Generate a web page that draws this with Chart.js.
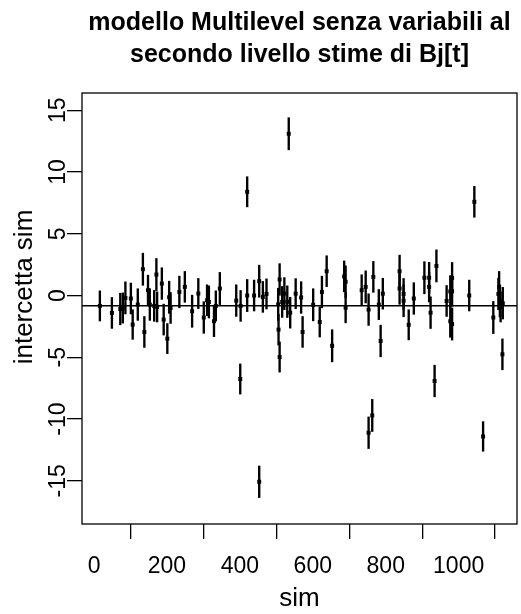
<!DOCTYPE html>
<html>
<head>
<meta charset="utf-8">
<script src="https://cdn.jsdelivr.net/npm/chart.js@4/dist/chart.umd.min.js"></script>
<style>
  html, body { margin: 0; padding: 0; background: #fff; }
  #box { width: 521px; height: 614px; }
</style>
</head>
<body>
<div id="box"><canvas id="grafico"></canvas></div>
<script>
// Dati: ascissa (sim), stima dell'intercetta e semi-ampiezza della barra
const simX = [16, 49, 72, 79, 86, 101, 106, 120, 134, 138,
  148, 153, 165, 171, 173, 186, 191, 201, 206, 210,
  234, 249, 269, 286, 301, 310, 315, 329, 334, 345,
  390, 401, 402, 420, 420, 439, 453, 453, 463, 473,
  505, 506, 509, 509, 516, 522, 530, 534, 538, 553,
  568, 572, 601, 619, 625, 638, 653, 686, 690, 690,
  734, 745, 753, 753, 763, 766, 781, 786, 792, 838,
  838, 849, 849, 863, 877, 906, 919, 919, 923, 934,
  939, 967, 977, 977, 982, 982, 982, 1029, 1043, 1067,
  1095, 1109, 1111, 1113, 1115, 1121, 1120];

const stime = [-0.84, -1.41, -1.09, -1.01, -0.19, -0.24, -2.35, -0.73, 2.13, -2.95,
  0.43, -0.73, -0.84, 1.70, -0.92, 0.97, -1.95, -3.49, -0.14, -1.01,
  0.29, 0.70, -1.27, 0.16, -1.78, -0.38, -0.52, -2.08, -0.84, 0.57,
  -0.41, -6.76, -0.84, 8.40, 0.00, 0.00, -15.08, 1.16, -0.11, 0.13,
  -0.71, -2.76, 1.30, -4.98, -0.52, 0.15, -0.50, 13.10, -1.39, 0.15,
  -0.16, -2.95, -0.75, -2.14, 0.29, 1.97, -4.07, 1.55, 1.12, -0.99,
  0.43, 0.70, -1.14, -11.11, -9.71, 1.51, -0.73, -3.68, 0.15, 1.97,
  0.57, 0.13, -0.42, -2.37, -0.24, 1.44, 1.44, 0.70, -1.39, -6.92,
  2.40, -0.44, 0.33, -2.08, 1.43, 0.35, -2.31, 0.00, 7.59, -11.41,
  -1.78, 0.13, 0.70, -0.44, -0.92, -0.62, -4.76];

const semi = [1.22, 1.25, 1.28, 1.22, 1.3, 1.25, 1.2, 1.28, 1.3, 1.25,
  1.22, 1.28, 1.25, 1.3, 1.22, 1.28, 1.25, 1.22, 1.3, 1.25,
  1.28, 1.25, 1.3, 1.22, 1.28, 1.25, 1.3, 1.25, 1.22, 1.3,
  1.28, 1.22, 1.25, 1.22, 1.3, 1.25, 1.28, 1.3, 1.25, 1.22,
  1.3, 1.25, 1.28, 1.22, 1.25, 1.3, 1.28, 1.3, 1.25, 1.22,
  1.28, 1.25, 1.3, 1.22, 1.28, 1.25, 1.3, 1.25, 1.28, 1.22,
  1.25, 1.3, 1.28, 1.28, 1.3, 1.25, 1.22, 1.28, 1.25, 1.3,
  1.28, 1.25, 1.3, 1.22, 1.28, 1.3, 1.25, 1.22, 1.28, 1.28,
  1.3, 1.25, 1.28, 1.3, 1.25, 1.22, 1.3, 1.25, 1.25, 1.2,
  1.3, 1.28, 1.25, 1.3, 1.22, 1.28, 1.25];

const mediaStime = -0.83;   // linea orizzontale (abline)
const xTicks = [0, 200, 400, 600, 800, 1000];
const yTicks = [-15, -10, -5, 0, 5, 10, 15];
const xMin = -33, xMax = 1160;
const yMin = -18.5, yMax = 16.4;

const titolo = ['modello Multilevel senza variabili al', 'secondo livello stime di Bj[t]'];
const titoloX = 'sim';
const titoloY = 'intercetta sim';

const FONT = '"Liberation Sans", Arial, Helvetica, sans-serif';

// Testi e riquadro disegnati come in R (etichette y ruotate)
const testiR = {
  id: 'testiR',
  afterDraw(chart) {
    const { ctx, chartArea, scales } = chart;
    const cx = (chartArea.left + chartArea.right) / 2;
    ctx.save();
    ctx.fillStyle = '#000';
    ctx.textAlign = 'center';
    ctx.textBaseline = 'alphabetic';

    ctx.font = 'bold 25px ' + FONT;
    titolo.forEach((riga, i) => ctx.fillText(riga, cx, 30 + i * 31.5));

    ctx.font = '23px ' + FONT;
    scales.x.ticks.forEach(t => {
      ctx.fillText(t.label, scales.x.getPixelForValue(t.value), 573);
    });
    scales.y.ticks.forEach(t => {
      ctx.save();
      ctx.translate(65, scales.y.getPixelForValue(t.value));
      ctx.rotate(-Math.PI / 2);
      ctx.fillText(t.label, 0, 0);
      ctx.restore();
    });

    ctx.font = '26px ' + FONT;
    ctx.fillText(titoloX, cx, 606);
    ctx.save();
    ctx.translate(31.5, 287);
    ctx.rotate(-Math.PI / 2);
    ctx.fillText(titoloY, 0, 0);
    ctx.restore();

    ctx.lineWidth = 1.3;
    ctx.strokeStyle = '#000';
    ctx.strokeRect(chartArea.left, chartArea.top,
      chartArea.right - chartArea.left, chartArea.bottom - chartArea.top);
    ctx.restore();
  }
};

const barre = simX.map((x, i) => ({ x: x, y: [stime[i] - semi[i], stime[i] + semi[i]] }));
const punti = simX.map((x, i) => ({ x: x, y: stime[i] }));

new Chart(document.getElementById('grafico'), {
  type: 'bar',
  data: {
    datasets: [
      {
        type: 'scatter',
        data: punti,
        pointStyle: 'rect',
        pointRadius: 2.8,
        backgroundColor: '#000',
        borderWidth: 0
      },
      {
        type: 'line',
        data: [{ x: xMin, y: mediaStime }, { x: xMax, y: mediaStime }],
        borderColor: '#000',
        borderWidth: 1.6,
        pointRadius: 0
      },
      {
        type: 'bar',
        data: barre,
        backgroundColor: '#000',
        barThickness: 1.7
      }
    ]
  },
  options: {
    responsive: true,
    maintainAspectRatio: false,
    animation: false,
    layout: { padding: { top: 93, left: 0, right: 4, bottom: 0 } },
    plugins: {
      legend: { display: false },
      tooltip: { enabled: false },
      title: { display: false }
    },
    scales: {
      x: {
        type: 'linear',
        min: xMin,
        max: xMax,
        offset: false,
        afterBuildTicks: s => { s.ticks = xTicks.map(v => ({ value: v })); },
        afterFit: s => { s.height = 90; },
        ticks: { display: false, callback: v => String(v) },
        grid: { display: true, drawOnChartArea: false, drawTicks: true, tickLength: 15, color: '#000', tickColor: '#000', lineWidth: 1.3 },
        border: { display: false }
      },
      y: {
        type: 'linear',
        min: yMin,
        max: yMax,
        afterBuildTicks: s => { s.ticks = yTicks.map(v => ({ value: v })); },
        afterFit: s => { s.width = 82; },
        ticks: { display: false, callback: v => String(v) },
        grid: { display: true, drawOnChartArea: false, drawTicks: true, tickLength: 15, color: '#000', tickColor: '#000', lineWidth: 1.3 },
        border: { display: false }
      }
    }
  },
  plugins: [testiR]
});
</script>
</body>
</html>
